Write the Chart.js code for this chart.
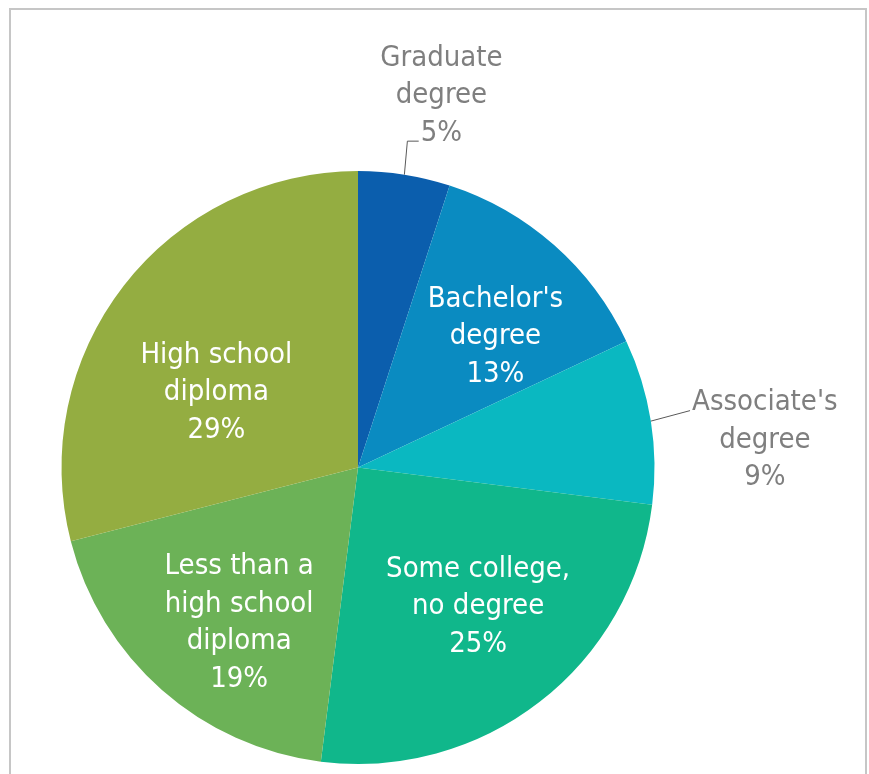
<!DOCTYPE html>
<html>
<head>
<meta charset="utf-8">
<script src="https://cdn.jsdelivr.net/npm/chart.js@4"></script>
<style>
  html, body { margin: 0; padding: 0; background: #fff; overflow: hidden; }
  #ramme {
    position: absolute; left: 9px; top: 8px; width: 854px; height: 800px;
    border: 2px solid #c6c6c6; border-bottom: none;
  }
  #graf { position: absolute; left: 0; top: 0; }
</style>
</head>
<body>
<div id="ramme"></div>
<canvas id="graf" width="869" height="774"></canvas>
<script>
// Kategorier og verdier (prosent)
const kategorier = [
  ['Graduate', 'degree'],
  ["Bachelor's", 'degree'],
  ["Associate's", 'degree'],
  ['Some college,', 'no degree'],
  ['Less than a', 'high school', 'diploma'],
  ['High school', 'diploma']
];
const andeler = [5, 13, 9, 25, 19, 29];
const farger = ['#0b5ead', '#0a8bc1', '#0ab8c1', '#10b78b', '#6cb257', '#94ad41'];

// Hvor etikettene skal plasseres (inne i sektoren eller utenfor med linje)
// f = andel av radius, da = vinkeljustering i grader
const etikettOppsett = [
  { ute: true, dx: 37, dy: -79 },
  { ute: false, f: 0.64, da: 5 },
  { ute: true, dx: 114, dy: 19 },
  { ute: false, f: 0.62, da: -3 },
  { ute: false, f: 0.66, da: -4 },
  { ute: false, f: 0.54, da: -10 }
];

const skrift = '29px "DejaVu Sans Condensed", "DejaVu Sans", sans-serif';
const linjeHoyde = 37.5;

// Plugin som tegner etikettene
const etikettPlugin = {
  id: 'etiketter',
  afterDatasetsDraw(chart) {
    const ctx = chart.ctx;
    const meta = chart.getDatasetMeta(0);
    ctx.save();
    ctx.font = skrift;
    ctx.textAlign = 'center';
    ctx.textBaseline = 'middle';
    meta.data.forEach((bue, i) => {
      const p = bue.getProps(['x', 'y', 'startAngle', 'endAngle', 'outerRadius']);
      const midt = (p.startAngle + p.endAngle) / 2;
      const linjer = kategorier[i].concat([andeler[i] + '%']);
      const oppsett = etikettOppsett[i];
      let cx, cy;
      if (oppsett.ute) {
        const kx = p.x + Math.cos(midt) * p.outerRadius;
        const ky = p.y + Math.sin(midt) * p.outerRadius;
        cx = kx + oppsett.dx;
        cy = ky + oppsett.dy;
        ctx.fillStyle = '#7f7f7f';
        // finn linja nærmest sektoren
        const topp = cy - (linjer.length - 1) * linjeHoyde / 2;
        const idx = oppsett.dy < 0 ? linjer.length - 1 : 0;
        const ly = topp + idx * linjeHoyde + 8;
        const lx = cx - ctx.measureText(linjer[idx]).width / 2 - 2;
        ctx.strokeStyle = '#595959';
        ctx.lineWidth = 1;
        ctx.beginPath();
        ctx.moveTo(kx, ky);
        if (Math.abs(ly - ky) > Math.abs(lx - kx)) {
          ctx.lineTo(kx + 3, ly);
        }
        ctx.lineTo(lx, ly);
        ctx.stroke();
      } else {
        const v = midt + oppsett.da * Math.PI / 180;
        cx = p.x + Math.cos(v) * p.outerRadius * oppsett.f;
        cy = p.y + Math.sin(v) * p.outerRadius * oppsett.f;
        ctx.fillStyle = '#ffffff';
      }
      const start = cy - (linjer.length - 1) * linjeHoyde / 2;
      linjer.forEach((t, j) => ctx.fillText(t, cx, start + j * linjeHoyde));
    });
    ctx.restore();
  }
};

function lagGraf() {
  const ctx = document.getElementById('graf').getContext('2d');
  new Chart(ctx, {
    type: 'pie',
    data: {
      labels: kategorier.map(k => k.join(' ')),
      datasets: [{
        data: andeler,
        backgroundColor: farger,
        borderWidth: 0
      }]
    },
    options: {
      responsive: false,
      animation: false,
      devicePixelRatio: 1,
      layout: { padding: { left: 61, right: 214, top: 171, bottom: 10 } },
      plugins: {
        legend: { display: false },
        tooltip: { enabled: false }
      }
    },
    plugins: [etikettPlugin]
  });
}

lagGraf();
</script>
</body>
</html>
